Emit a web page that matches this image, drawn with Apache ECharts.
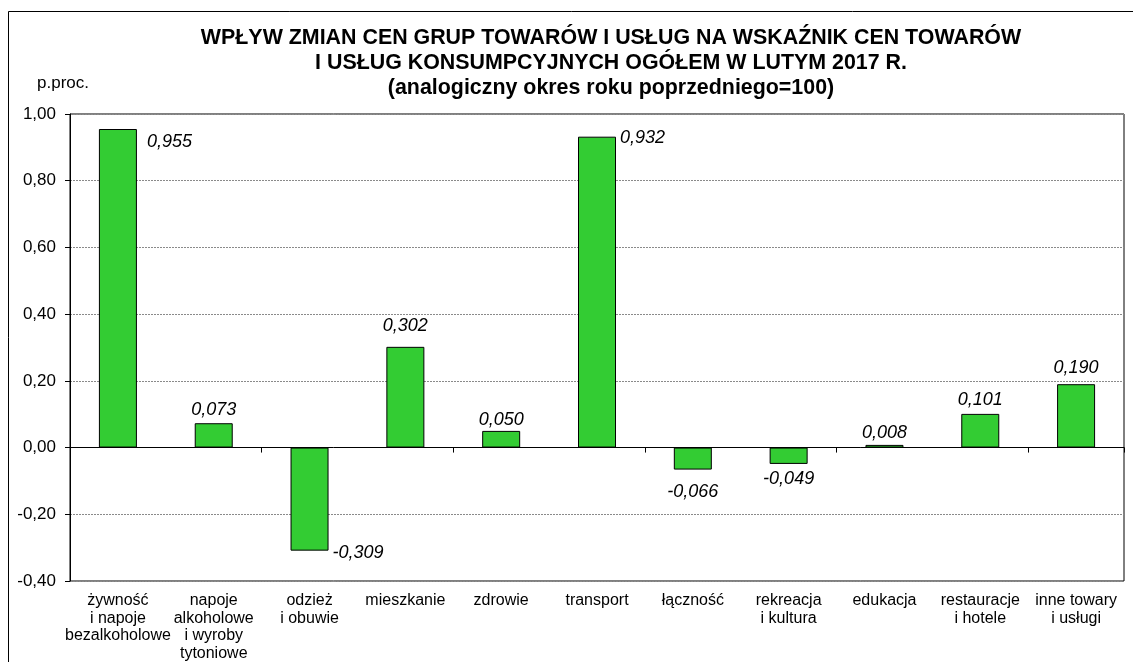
<!DOCTYPE html>
<html>
<head>
<meta charset="utf-8">
<title>Wpływ zmian cen</title>
<script src="https://cdn.jsdelivr.net/npm/echarts@6/dist/echarts.min.js"></script>
<style>
  html, body { margin: 0; padding: 0; background: #fff; }
  #chart { width: 1133px; height: 662px; }
</style>
</head>
<body>
<div id="chart"></div>
<script>
// categories (x axis)
const categories = [
  'żywność\ni napoje\nbezalkoholowe',
  'napoje\nalkoholowe\ni wyroby\ntytoniowe',
  'odzież\ni obuwie',
  'mieszkanie',
  'zdrowie',
  'transport',
  'łączność',
  'rekreacja\ni kultura',
  'edukacja',
  'restauracje\ni hotele',
  'inne towary\ni usługi'
]
// contribution in percentage points
const values = [0.955, 0.073, -0.309, 0.302, 0.050, 0.932, -0.066, -0.049, 0.008, 0.101, 0.190]

const FONT = '"Liberation Sans", Arial, sans-serif'
const comma = (v, d) => v.toFixed(d).replace('.', ',')

// label placement per bar (as in the original)
const labelPos = [
  { position: ['100%', 0], offset: [10, 13], align: 'left', verticalAlign: 'middle' },
  { position: 'top', distance: 4 },
  { position: ['100%', '100%'], offset: [4, 2], align: 'left', verticalAlign: 'middle' },
  { position: 'top', distance: 12 },
  { position: 'top', distance: 2 },
  { position: ['100%', 0], offset: [4, 1], align: 'left', verticalAlign: 'middle' },
  { position: 'bottom', distance: 13 },
  { position: 'bottom', distance: 6 },
  { position: 'top', distance: 3 },
  { position: 'top', distance: 5 },
  { position: 'top', distance: 7 }
]

const chart = echarts.init(document.getElementById('chart'))

chart.setOption({
  backgroundColor: '#fff',
  animation: false,
  textStyle: { fontFamily: FONT },
  title: {
    text: 'WPŁYW ZMIAN CEN GRUP TOWARÓW I USŁUG NA WSKAŹNIK CEN TOWARÓW\nI USŁUG KONSUMPCYJNYCH OGÓŁEM W LUTYM 2017 R.\n(analogiczny okres roku poprzedniego=100)',
    left: 606,
    top: 21,
    textAlign: 'center',
    textStyle: {
      fontFamily: FONT,
      fontSize: 21.4,
      fontWeight: 'bold',
      color: '#000',
      lineHeight: 25
    }
  },
  graphic: [
    {
      type: 'rect',
      z: -10,
      shape: { x: 8.5, y: 11.5, width: 1200, height: 700 },
      style: { fill: 'none', stroke: '#000', lineWidth: 1 }
    },
    {
      type: 'text',
      left: 37,
      top: 75,
      style: { text: 'p.proc.', font: '17px ' + FONT, fill: '#000' }
    }
  ],
  grid: {
    left: 70,
    right: 9,
    top: 114,
    bottom: 81,
    show: true,
    borderColor: '#000',
    borderWidth: 1
  },
  xAxis: [
    {
      type: 'category',
      data: categories,
      position: 'bottom',
      axisLine: { show: false, onZero: false },
      axisTick: { show: false },
      axisLabel: {
        interval: 0,
        margin: 11,
        color: '#000',
        fontSize: 16,
        lineHeight: 17.5,
        fontFamily: FONT
      }
    },
    {
      type: 'category',
      data: categories,
      position: 'top',
      axisLine: { show: true, onZero: true, lineStyle: { color: '#000', width: 1 } },
      axisTick: { show: true, inside: true, length: 5, lineStyle: { color: '#000' } },
      axisLabel: { show: false }
    }
  ],
  yAxis: {
    type: 'value',
    min: -0.4,
    max: 1,
    interval: 0.2,
    axisLine: { show: true, lineStyle: { color: '#000', width: 1 } },
    axisTick: { show: true, length: 5, lineStyle: { color: '#000' } },
    axisLabel: {
      margin: 14,
      color: '#000',
      fontSize: 17,
      fontFamily: FONT,
      formatter: v => comma(v, 2)
    },
    splitLine: {
      show: true,
      lineStyle: { color: '#8a8a8a', type: [2, 1], width: 1 }
    }
  },
  series: [
    {
      type: 'bar',
      xAxisIndex: 0,
      barWidth: 38,
      data: values.map((v, i) => ({
        value: v,
        label: Object.assign({ show: true }, labelPos[i])
      })),
      itemStyle: {
        color: '#33cc33',
        borderColor: '#000',
        borderWidth: 1
      },
      label: {
        show: true,
        fontSize: 18,
        fontStyle: 'italic',
        color: '#000',
        fontFamily: FONT,
        formatter: p => comma(p.value, 3)
      }
    }
  ]
})
</script>
</body>
</html>
